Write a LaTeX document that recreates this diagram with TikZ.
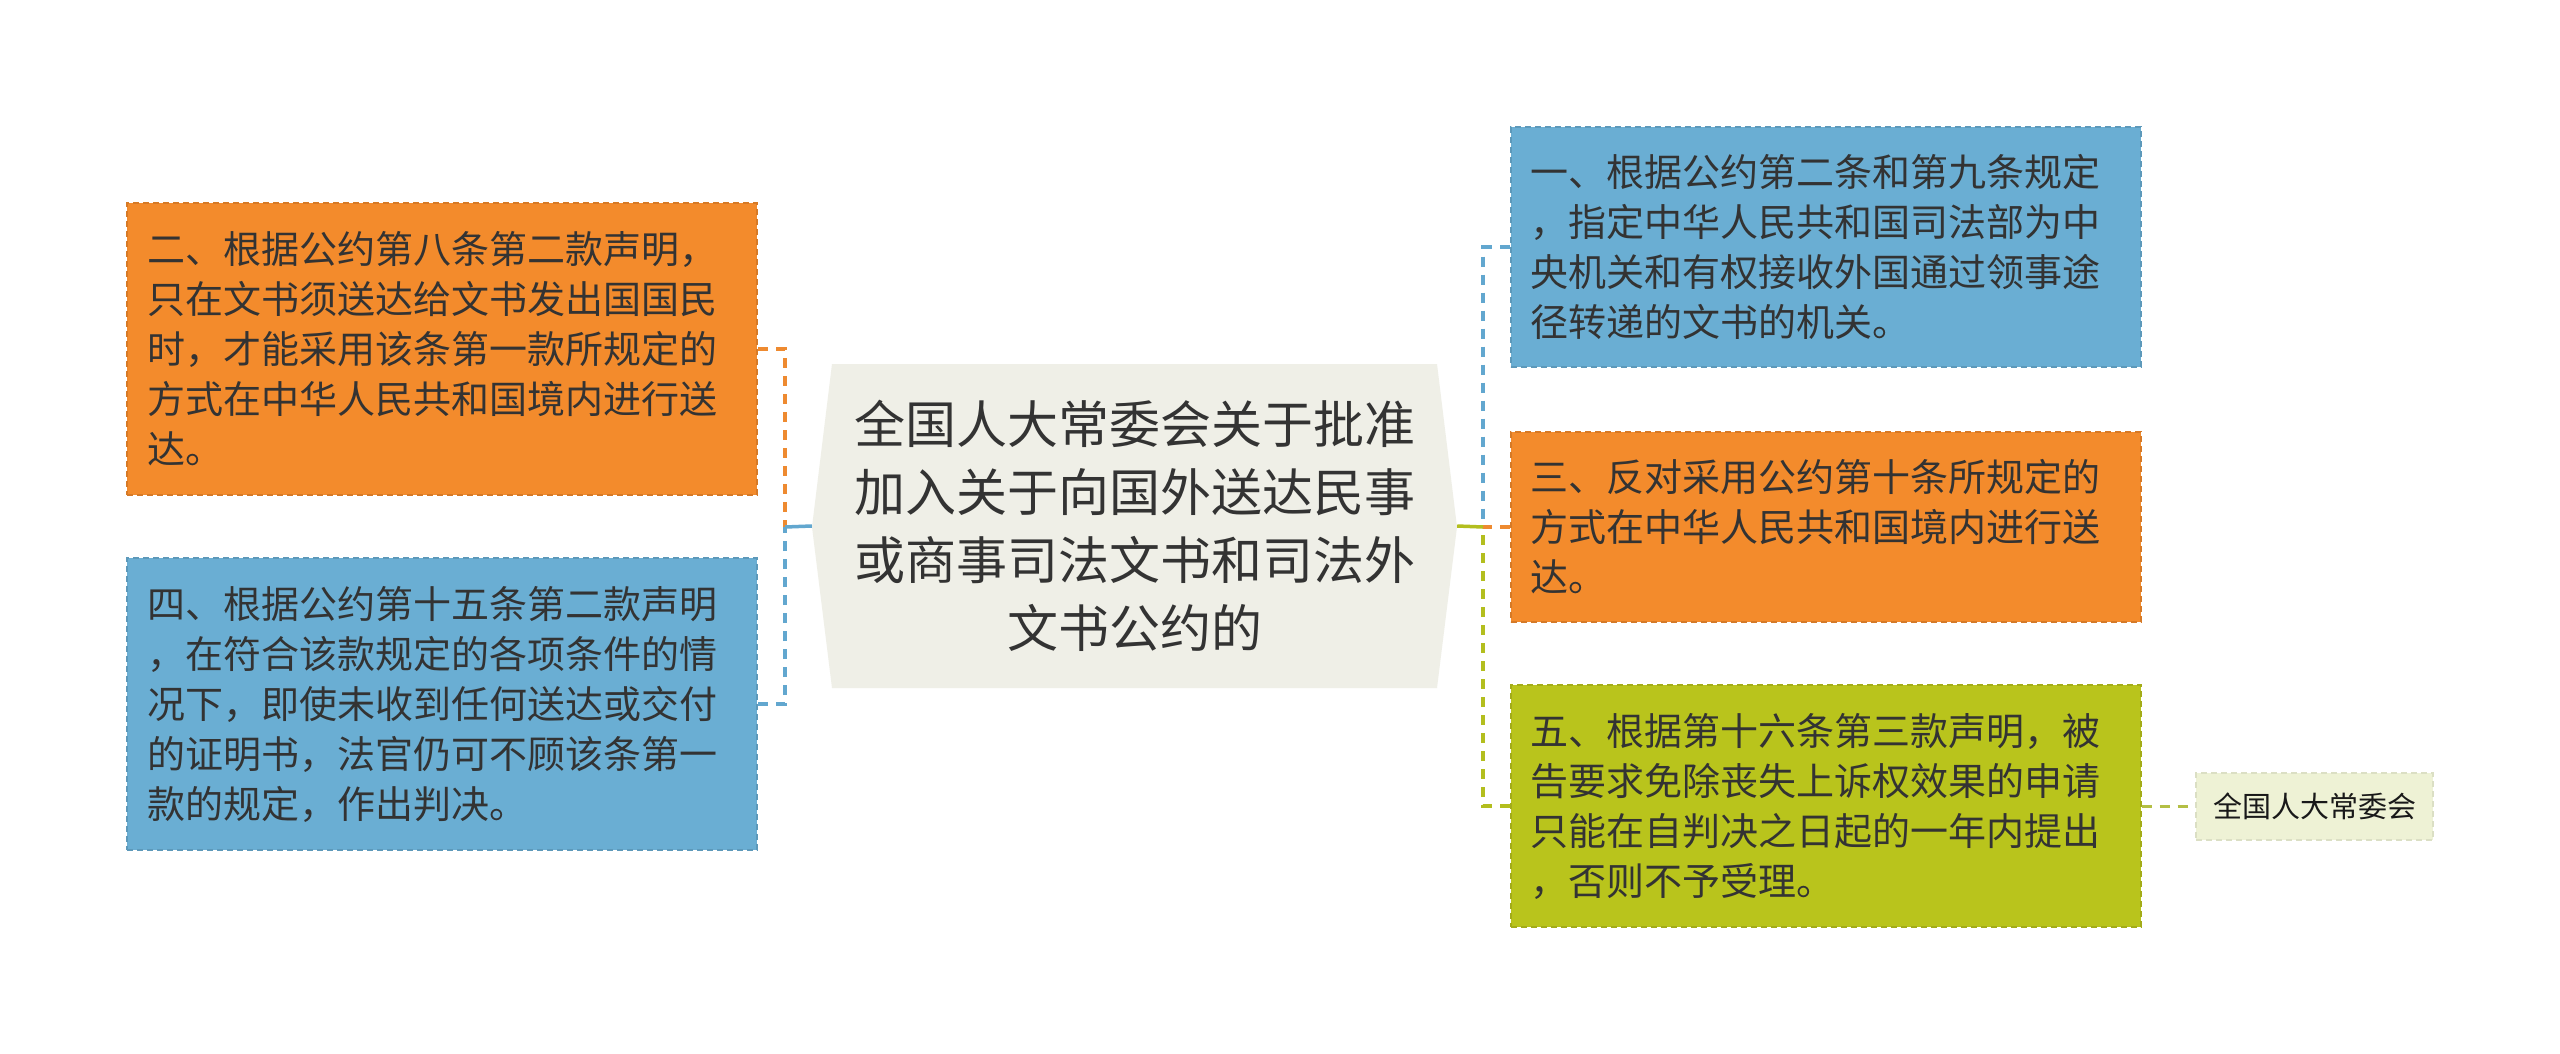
\documentclass[tikz,border=0pt]{standalone}
\usepackage{fontspec}
\newfontfamily\cjk{Noto Sans CJK SC}
\definecolor{cOr}{HTML}{F38B2C}
\definecolor{cBl}{HTML}{6AAED3}
\definecolor{cGr}{HTML}{B9C41C}
\definecolor{cRoot}{HTML}{EFEFE7}
\definecolor{cSmall}{HTML}{EEF2D5}
\definecolor{txt}{HTML}{333333}
\definecolor{lOr}{HTML}{EE8A30}
\definecolor{lBl}{HTML}{62A7CF}
\definecolor{lGr}{HTML}{B3BE1E}
\definecolor{lSm}{HTML}{B4BF45}
\begin{document}
\begin{tikzpicture}[x=1pt,y=-1pt,
  box/.style={rectangle, draw, line width=2pt, dash pattern=on 6pt off 4pt,
    inner xsep=20pt, inner ysep=0pt, text width=590pt, align=left,
    font=\cjk\fontsize{38}{50}\selectfont, text=txt},
  orbox/.style={box, fill=cOr, draw=cOr!88!black},
  blbox/.style={box, fill=cBl, draw=cBl!88!black},
  grbox/.style={box, fill=cGr, draw=cGr!88!black},
  rootnode/.style={rectangle, inner sep=0pt, minimum width=645pt, minimum height=324pt,
    align=center, font=\cjk\fontsize{51}{68}\selectfont, text=txt},
  smallnode/.style={rectangle, fill=cSmall, draw=cSmall!92!black, line width=2pt,
    dash pattern=on 6pt off 4pt, inner sep=0pt, minimum width=237pt, minimum height=67pt,
    font=\cjk\fontsize{29}{36}\selectfont, text=black!90},
  conn/.style={line width=3.5pt, dash pattern=on 10pt off 8pt},
  solidconn/.style={line width=3.5pt}
]
\useasboundingbox (0,0) rectangle (2560,1053);
\fill[white] (0,0) rectangle (2560,1053);

% root shape
\fill[cRoot] (812,527) -- (832,364) -- (1437,364) -- (1457,527) -- (1437,688) -- (832,688) -- cycle;
\node[rootnode] (root) at (1134.5,526) {全国人大常委会关于批准\\加入关于向国外送达民事\\或商事司法文书和司法外\\文书公约的};

% left boxes
\node[orbox, minimum height=292pt] (b2) at (442,349) {二、根据公约第八条第二款声明，\\只在文书须送达给文书发出国国民\\时，才能采用该条第一款所规定的\\方式在中华人民共和国境内进行送\\达。};
\node[blbox, minimum height=292pt] (b4) at (442,704) {四、根据公约第十五条第二款声明\\，在符合该款规定的各项条件的情\\况下，即使未收到任何送达或交付\\的证明书，法官仍可不顾该条第一\\款的规定，作出判决。};

% right boxes
\node[blbox, minimum height=240pt] (b1) at (1825.5,247) {一、根据公约第二条和第九条规定\\，指定中华人民共和国司法部为中\\央机关和有权接收外国通过领事途\\径转递的文书的机关。};
\node[orbox, minimum height=190pt] (b3) at (1825.5,527) {三、反对采用公约第十条所规定的\\方式在中华人民共和国境内进行送\\达。};
\node[grbox, minimum height=242pt] (b5) at (1825.5,806) {五、根据第十六条第三款声明，被\\告要求免除丧失上诉权效果的申请\\只能在自判决之日起的一年内提出\\，否则不予受理。};

\node[smallnode] (sm) at (2314.5,806) {全国人大常委会};

% junctions
\coordinate (jl) at (785,527);
\coordinate (jr) at (1483,527);

% left connectors
\draw[conn, lOr] (b2.east) -| (jl);
\draw[conn, lBl] (b4.east) -| (jl);
\draw[solidconn, lBl] (jl) -- (root.west);

% right connectors
\draw[conn, lBl] (b1.west) -| (jr);
\draw[conn, lOr] (b3.west) -- (jr);
\draw[conn, lGr] (b5.west) -| (jr);
\draw[solidconn, lGr] (root.east) -- (jr);

% leaf connector
\draw[line width=3pt, dash pattern=on 10pt off 8pt, lSm] (b5.east) -- (sm.west);
\end{tikzpicture}
\end{document}
